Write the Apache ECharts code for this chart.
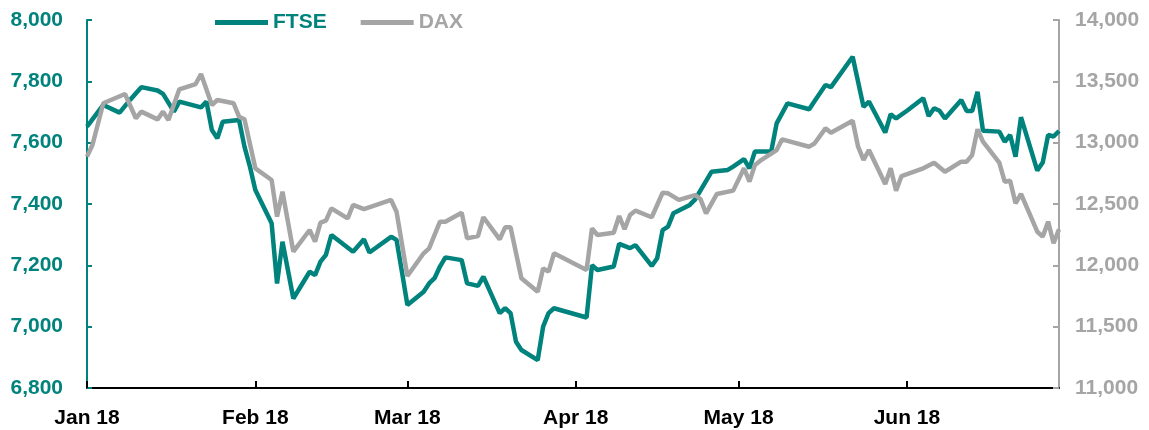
<!DOCTYPE html>
<html>
<head>
<meta charset="utf-8">
<script src="https://cdn.jsdelivr.net/npm/echarts@6/dist/echarts.min.js"></script>
<style>
  html, body { margin: 0; padding: 0; background: #fff; }
  #chart { width: 1149px; height: 430px; }
</style>
</head>
<body>
<div id="chart"></div>
<script>
// FTSE 100 (left axis)
const ftseDates = [
  '2018-01-01', '2018-01-04', '2018-01-07', '2018-01-09', '2018-01-11', '2018-01-14', '2018-01-15',
  '2018-01-17', '2018-01-18', '2018-01-22', '2018-01-23', '2018-01-24', '2018-01-25', '2018-01-26',
  '2018-01-29', '2018-01-30', '2018-01-31', '2018-02-01', '2018-02-04', '2018-02-05', '2018-02-06',
  '2018-02-08', '2018-02-11', '2018-02-12', '2018-02-13', '2018-02-14', '2018-02-15', '2018-02-19',
  '2018-02-21', '2018-02-22', '2018-02-26', '2018-02-27', '2018-02-28', '2018-03-01', '2018-03-04',
  '2018-03-05', '2018-03-06', '2018-03-07', '2018-03-08', '2018-03-11', '2018-03-12', '2018-03-14',
  '2018-03-15', '2018-03-18', '2018-03-19', '2018-03-20', '2018-03-21', '2018-03-22', '2018-03-25',
  '2018-03-26', '2018-03-27', '2018-03-28', '2018-04-03', '2018-04-04', '2018-04-05', '2018-04-08',
  '2018-04-09', '2018-04-11', '2018-04-12', '2018-04-15', '2018-04-16', '2018-04-17', '2018-04-18',
  '2018-04-19', '2018-04-22', '2018-04-23', '2018-04-26', '2018-04-29', '2018-04-30', '2018-05-02',
  '2018-05-03', '2018-05-04', '2018-05-07', '2018-05-08', '2018-05-10', '2018-05-14', '2018-05-15',
  '2018-05-17', '2018-05-18', '2018-05-22', '2018-05-24', '2018-05-25', '2018-05-28', '2018-05-29',
  '2018-05-30', '2018-06-01', '2018-06-04', '2018-06-05', '2018-06-06', '2018-06-07', '2018-06-08',
  '2018-06-11', '2018-06-12', '2018-06-13', '2018-06-14', '2018-06-15', '2018-06-18', '2018-06-19',
  '2018-06-20', '2018-06-21', '2018-06-22', '2018-06-25', '2018-06-26', '2018-06-27', '2018-06-28',
  '2018-06-29'
]
const ftseValues = [
  7652, 7723, 7698, 7741, 7781, 7770, 7759,
  7701, 7734, 7715, 7734, 7641, 7614, 7668,
  7674, 7587, 7522, 7446, 7337, 7141, 7277,
  7092, 7179, 7168, 7212, 7234, 7299, 7244,
  7285, 7242, 7293, 7283, 7179, 7071, 7114,
  7141, 7158, 7196, 7226, 7217, 7141, 7133,
  7163, 7044, 7060, 7044, 6951, 6924, 6891,
  7000, 7044, 7060, 7030, 7200, 7185, 7196,
  7270, 7256, 7266, 7198, 7223, 7315, 7326,
  7370, 7397, 7415, 7505, 7511, 7522, 7546,
  7516, 7571, 7571, 7663, 7728, 7709, 7736,
  7788, 7781, 7880, 7717, 7734, 7633, 7693,
  7679, 7704, 7745, 7687, 7712, 7704, 7679,
  7739, 7703, 7703, 7766, 7639, 7636, 7603,
  7625, 7554, 7683, 7509, 7535, 7625, 7620,
  7638
]

// DAX (right axis)
const daxDates = [
  '2018-01-01', '2018-01-02', '2018-01-04', '2018-01-08', '2018-01-10', '2018-01-11', '2018-01-14',
  '2018-01-15', '2018-01-16', '2018-01-18', '2018-01-21', '2018-01-22', '2018-01-24', '2018-01-25',
  '2018-01-28', '2018-01-29', '2018-01-30', '2018-02-01', '2018-02-04', '2018-02-05', '2018-02-06',
  '2018-02-08', '2018-02-11', '2018-02-12', '2018-02-13', '2018-02-14', '2018-02-15', '2018-02-18',
  '2018-02-19', '2018-02-21', '2018-02-26', '2018-02-27', '2018-03-01', '2018-03-04', '2018-03-05',
  '2018-03-07', '2018-03-08', '2018-03-11', '2018-03-12', '2018-03-14', '2018-03-15', '2018-03-18',
  '2018-03-19', '2018-03-20', '2018-03-22', '2018-03-25', '2018-03-26', '2018-03-27', '2018-03-28',
  '2018-04-03', '2018-04-04', '2018-04-05', '2018-04-08', '2018-04-09', '2018-04-10', '2018-04-11',
  '2018-04-12', '2018-04-15', '2018-04-17', '2018-04-18', '2018-04-20', '2018-04-23', '2018-04-24',
  '2018-04-25', '2018-04-27', '2018-04-30', '2018-05-02', '2018-05-03', '2018-05-04', '2018-05-05',
  '2018-05-08', '2018-05-09', '2018-05-14', '2018-05-15', '2018-05-17', '2018-05-18', '2018-05-22',
  '2018-05-23', '2018-05-24', '2018-05-25', '2018-05-28', '2018-05-29', '2018-05-30', '2018-05-31',
  '2018-06-04', '2018-06-06', '2018-06-08', '2018-06-11', '2018-06-12', '2018-06-13', '2018-06-14',
  '2018-06-15', '2018-06-18', '2018-06-19', '2018-06-20', '2018-06-21', '2018-06-22', '2018-06-25',
  '2018-06-26', '2018-06-27', '2018-06-28', '2018-06-29'
]
const daxValues = [
  12886, 12981, 13321, 13397, 13199, 13253, 13190,
  13253, 13185, 13435, 13478, 13560, 13307, 13348,
  13321, 13212, 13190, 12791, 12696, 12397, 12600,
  12111, 12288, 12193, 12348, 12364, 12465, 12383,
  12492, 12459, 12533, 12437, 11913, 12098, 12139,
  12356, 12356, 12429, 12220, 12239, 12392, 12212,
  12310, 12310, 11894, 11785, 11976, 11948, 12098,
  11962, 12302, 12247, 12266, 12402, 12294, 12410,
  12446, 12392, 12592, 12587, 12533, 12573, 12538,
  12424, 12582, 12609, 12791, 12682, 12818, 12853,
  12940, 13027, 12967, 12995, 13117, 13081, 13179,
  12967, 12859, 12940, 12663, 12791, 12608, 12728,
  12791, 12837, 12763, 12845, 12845, 12899, 13109,
  13008, 12837, 12682, 12690, 12506, 12582, 12274,
  12234, 12356, 12180, 12294
]

const monthLabels = ['Jan 18', 'Feb 18', 'Mar 18', 'Apr 18', 'May 18', 'Jun 18', 'Jul 18']

const teal = '#00837C'
const grey = '#A5A5A5'
const font = 'Liberation Sans, Arial, sans-serif'

const chart = echarts.init(document.getElementById('chart'))

const fmt = v => v.toLocaleString('en-US')

chart.setOption({
  animation: false,
  textStyle: { fontFamily: font },
  grid: { left: 87, right: 90, top: 20, bottom: 42 },
  legend: {
    left: 210,
    top: 7,
    icon: 'rect',
    itemWidth: 53,
    itemHeight: 5,
    itemGap: 34,
    textStyle: { fontSize: 21, fontWeight: 'bold', fontFamily: font },
    data: [
      { name: 'FTSE', textStyle: { color: teal } },
      { name: 'DAX', textStyle: { color: grey } }
    ]
  },
  xAxis: {
    type: 'time',
    min: '2018-01-01',
    max: '2018-06-29',
    minInterval: 28 * 24 * 3600 * 1000,
    maxInterval: 31 * 24 * 3600 * 1000,
    splitLine: { show: false },
    axisLine: { lineStyle: { color: '#000', width: 2 } },
    axisTick: { inside: true, length: 7, lineStyle: { color: '#000', width: 2 } },
    axisLabel: {
      color: '#000',
      fontSize: 21,
      fontWeight: 'bold',
      margin: 20,
      hideOverlap: false,
      formatter: val => monthLabels[new Date(val).getMonth()]
    }
  },
  yAxis: [
    {
      type: 'value',
      min: 6800,
      max: 8000,
      interval: 200,
      position: 'left',
      splitLine: { show: false },
      axisLine: { show: true, lineStyle: { color: teal, width: 2 } },
      axisTick: { show: true, inside: true, length: 5, lineStyle: { color: teal, width: 2 } },
      axisLabel: { color: teal, fontSize: 21, fontWeight: 'bold', margin: 24, formatter: fmt }
    },
    {
      type: 'value',
      min: 11000,
      max: 14000,
      interval: 500,
      position: 'right',
      splitLine: { show: false },
      axisLine: { show: true, lineStyle: { color: grey, width: 2 } },
      axisTick: { show: true, inside: true, length: 6, lineStyle: { color: grey, width: 2 } },
      axisLabel: { color: grey, fontSize: 21, fontWeight: 'bold', margin: 16, formatter: fmt }
    }
  ],
  series: [
    {
      name: 'FTSE',
      type: 'line',
      yAxisIndex: 0,
      showSymbol: false,
      symbol: 'none',
      lineStyle: { color: teal, width: 4.5 },
      itemStyle: { color: teal },
      data: ftseDates.map((d, i) => [d, ftseValues[i]])
    },
    {
      name: 'DAX',
      type: 'line',
      yAxisIndex: 1,
      showSymbol: false,
      symbol: 'none',
      lineStyle: { color: grey, width: 4.5 },
      itemStyle: { color: grey },
      data: daxDates.map((d, i) => [d, daxValues[i]])
    }
  ]
})
</script>
</body>
</html>
